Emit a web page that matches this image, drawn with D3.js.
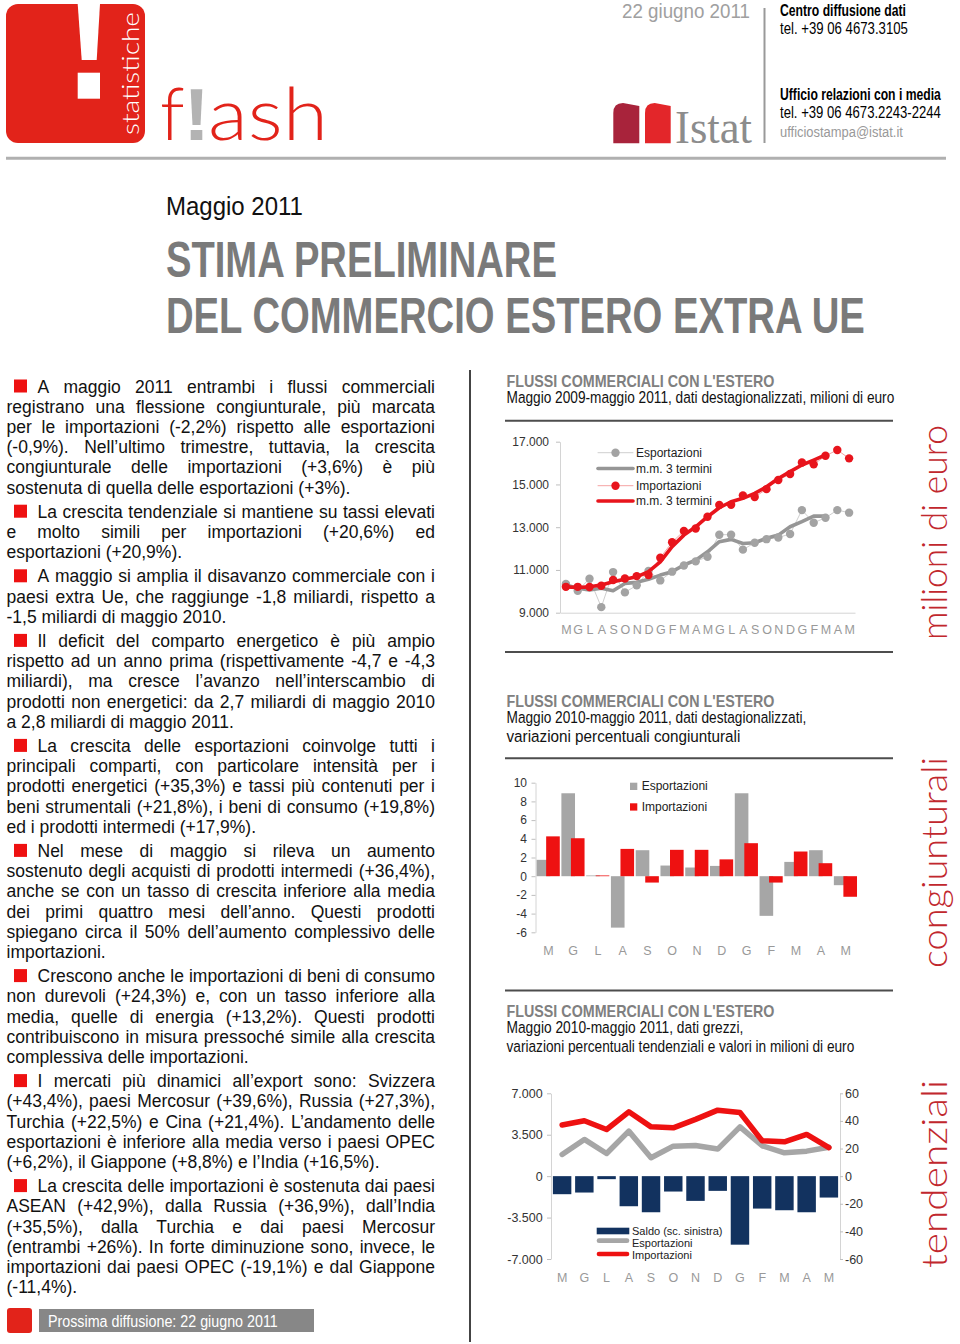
<!DOCTYPE html>
<html><head><meta charset="utf-8">
<script src="https://cdn.jsdelivr.net/npm/d3@7"></script>
<style>body{margin:0;background:#fff}svg{display:block}</style>
</head><body>
<svg id="c" width="960" height="1344"></svg>
<script>
// ---------------- DATA ----------------
const months25 = ["M","G","L","A","S","O","N","D","G","F","M","A","M","G","L","A","S","O","N","D","G","F","M","A","M"];
const exportRaw = [10340,10030,10590,9260,10900,9950,10280,10950,10510,10920,11210,11400,11620,12650,12650,11950,12270,12440,12520,12680,13800,13210,13440,13800,13680];
const importRaw = [10210,10210,10200,10260,10530,10600,10710,10760,11570,12300,12820,12940,13490,14040,14050,14490,14410,14780,15210,15490,16030,15940,16340,16610,16220];
const exportMA = [10300,10140,10060,10140,10030,10370,10420,10560,10760,10920,11230,11460,11850,12320,12430,12240,12270,12480,12630,13020,13260,13520,13520];
const importMA = [10210,10180,10210,10300,10450,10560,10680,10920,11380,12090,12630,13020,13490,13910,14190,14350,14580,14890,15280,15600,15910,16140,16380];
const ticks1 = [9000,11000,13000,15000,17000];

const months13 = ["M","G","L","A","S","O","N","D","G","F","M","A","M"];
const exportCong = [1.75,8.87,0.08,-5.5,2.78,1.14,0.93,1.1,8.87,-4.24,1.53,2.78,-0.96];
const importCong = [4.26,4.06,0.08,2.92,-0.68,2.82,2.82,1.8,3.53,-0.68,2.64,1.39,-2.2];
const ticks2 = [-6,-4,-2,0,2,4,6,8,10];

const saldo = [-1525,-1384,-254,-2542,-3050,-1300,-2090,-1243,-5790,-2740,-2880,-3050,-1808];
const exportTend = [15.7,26.6,16.4,32.6,13.3,21.7,22.2,19.6,35.7,22.0,16.9,18.1,20.9];
const importTend = [37.0,40.1,33.8,46.6,35.7,35.0,41.1,47.8,46.1,25.6,24.9,30.2,20.6];
const ticks3L = [-7000,-3500,0,3500,7000];
const ticks3R = [-60,-40,-20,0,20,40,60];

const paragraphs = [
 ["A maggio 2011 entrambi i flussi commerciali","registrano una flessione congiunturale, più marcata","per le importazioni (-2,2%) rispetto alle esportazioni","(-0,9%). Nell’ultimo trimestre, tuttavia, la crescita","congiunturale delle importazioni (+3,6%) è più","sostenuta di quella delle esportazioni (+3%)."],
 ["La crescita tendenziale si mantiene su tassi elevati","e molto simili per importazioni (+20,6%) ed","esportazioni (+20,9%)."],
 ["A maggio si amplia il disavanzo commerciale con i","paesi extra Ue, che raggiunge -1,8 miliardi, rispetto  a","-1,5 miliardi di maggio 2010."],
 ["Il deficit del comparto energetico è più ampio","rispetto ad un anno prima (rispettivamente -4,7 e -4,3","miliardi), ma cresce l’avanzo nell’interscambio di","prodotti non energetici: da 2,7 miliardi di maggio 2010","a 2,8 miliardi di maggio 2011."],
 ["La crescita delle esportazioni coinvolge tutti i","principali comparti, con particolare intensità per i","prodotti energetici (+35,3%) e tassi più contenuti per i","beni strumentali (+21,8%), i beni di consumo (+19,8%)","ed i prodotti intermedi (+17,9%)."],
 ["Nel mese di maggio si rileva un aumento","sostenuto degli acquisti di prodotti intermedi (+36,4%),","anche se con un tasso di crescita inferiore alla media","dei primi quattro mesi dell’anno. Questi prodotti","spiegano circa il 50% dell’aumento complessivo delle","importazioni."],
 ["Crescono anche le importazioni di beni di consumo","non durevoli (+24,3%) e, con un tasso inferiore alla","media, quelle di energia (+13,2%). Questi prodotti","contribuiscono in misura pressoché simile alla crescita","complessiva delle importazioni."],
 ["I mercati più dinamici all’export sono: Svizzera","(+43,4%), paesi Mercosur (+39,6%), Russia (+27,3%),","Turchia (+22,5%) e Cina (+21,4%). L’andamento delle","esportazioni è inferiore alla media verso i paesi OPEC","(+6,2%), il Giappone (+8,8%) e l’India (+16,5%)."],
 ["La crescita delle importazioni è sostenuta dai paesi","ASEAN (+42,9%), dalla Russia (+36,9%), dall’India","(+35,5%), dalla Turchia e dai paesi Mercosur","(entrambi +26%). In forte diminuzione sono, invece, le","importazioni dai paesi OPEC (-19,1%) e dal Giappone","(-11,4%)."]
];

// ---------------- SETUP ----------------
const NARROW = "'Liberation Sans Narrow','Arial Narrow','Liberation Sans',Arial,sans-serif";
const SANS = "'Liberation Sans',Arial,Helvetica,sans-serif";
const LIGHT = "Lato,'Open Sans','Liberation Sans',sans-serif";
const RED = "#e2231a";
const fmtIt = d3.formatLocale({decimal:",",thousands:".",grouping:[3],currency:["","€"],minus:"-"}).format(",");
const svg = d3.select("#c");
svg.append("rect").attr("width",960).attr("height",1344).attr("fill","#fff");

// text helper; o.len: horizontally scale glyphs (transform) so the text spans exactly o.len px
function T(g,x,y,s,o={}) {
  const t = g.append("text").attr("x",x).attr("y",y).text(s)
    .attr("font-family",o.ff||SANS).attr("font-size",o.fs||12).attr("fill",o.fill||"#000");
  if (o.fw) t.attr("font-weight",o.fw);
  if (o.anchor) t.attr("text-anchor",o.anchor);
  if (o.len) {
    const w = t.node().getComputedTextLength();
    if (w>0) t.attr("x",0).attr("y",0).attr("transform",`translate(${x},${y}) scale(${o.len/w},1)`);
  }
  return t;
}

// ---------------- HEADER ----------------
const H = svg.append("g");
H.append("rect").attr("x",6).attr("y",4).attr("width",139).attr("height",139).attr("rx",12).attr("fill",RED);
H.append("path").attr("d","M77.7,4 L100,4 L96.7,60 L81.7,60 Z").attr("fill","#fff");
H.append("rect").attr("x",77.7).attr("y",72.7).attr("width",22.3).attr("height",26).attr("fill","#fff");
H.append("text").attr("transform","translate(138.5,135) rotate(-90)").text("statistiche")
  .attr("font-family",LIGHT).attr("font-size",23).attr("font-weight",300).attr("fill","#fff")
  .attr("textLength",123).attr("lengthAdjust","spacingAndGlyphs");
T(H,160,140,"f",{ff:LIGHT,fs:72,fw:300,fill:RED});
H.append("path").attr("d","M190.7,89.3 L202.3,89.3 L200.5,125 L192.5,125 Z").attr("fill","#b3b3b3");
H.append("rect").attr("x",190.7).attr("y",130).attr("width",11.6).attr("height",10).attr("fill","#b3b3b3");
T(H,208,140,"ash",{ff:LIGHT,fs:72,fw:300,fill:RED,len:120});
H.append("line").attr("x1",6).attr("x2",946).attr("y1",158.3).attr("y2",158.3).attr("stroke","#b0b0b0").attr("stroke-width",3);

T(H,622,18,"22 giugno 2011",{ff:NARROW,fs:21,fill:"#a0a0a0",len:128});
H.append("line").attr("x1",764.5).attr("x2",764.5).attr("y1",8).attr("y2",143).attr("stroke","#999").attr("stroke-width",2);
T(H,780,16,"Centro diffusione dati",{ff:NARROW,fs:17,fw:"bold",len:126});
T(H,780,33.5,"tel. +39 06 4673.3105",{ff:NARROW,fs:17,len:128});
T(H,780,100,"Ufficio relazioni con i media",{ff:NARROW,fs:17,fw:"bold",len:161});
T(H,780,118.3,"tel. +39 06 4673.2243-2244",{ff:NARROW,fs:17,len:161});
T(H,780,137.3,"ufficiostampa@istat.it",{ff:NARROW,fs:15.5,fill:"#999",len:123});
H.append("path").attr("d","M613.3,113 Q613.3,103 623,103 L639.3,106 L639.3,143.3 L613.3,143.3 Z").attr("fill","#a8233b");
H.append("path").attr("d","M645,113 Q645,103 654.7,103 L670.7,106 L670.7,143.3 L645,143.3 Z").attr("fill","#e3262a");
T(H,675,143.3,"Istat",{ff:"'Liberation Serif','Times New Roman',serif",fs:46,fill:"#8c8c8c",len:77});

// ---------------- TITLE ----------------
T(svg,166,215,"Maggio 2011",{ff:SANS,fs:25,fill:"#111",len:137});
T(svg,166,277,"STIMA PRELIMINARE",{ff:NARROW,fs:50,fw:"bold",fill:"#7a7a7a",len:391});
T(svg,166,333,"DEL COMMERCIO ESTERO EXTRA UE",{ff:NARROW,fs:50,fw:"bold",fill:"#7a7a7a",len:699});

// ---------------- LEFT BODY TEXT ----------------
const B = svg.append("g").attr("font-family",SANS).attr("font-size",17.5).attr("fill","#111");
let yy = 392.5;
const LINE_GAP = 20.2, PARA_GAP = 24.2, RIGHT = 435;
paragraphs.forEach((para,pi)=>{
  if (pi>0) yy += PARA_GAP;
  B.append("rect").attr("x",14).attr("y",yy-13).attr("width",13).attr("height",13).attr("fill","#ee1111");
  para.forEach((line,li)=>{
    if (li>0) yy += LINE_GAP;
    const x0 = li===0 ? 37.5 : 6.5;
    if (li===para.length-1) { B.append("text").attr("x",x0).attr("y",yy).text(line); return; }
    const words = line.split(/\s+/);
    const ts = words.map(w=>B.append("text").attr("y",yy).text(w));
    const ws = ts.map(t=>t.node().getComputedTextLength());
    const gap = (RIGHT - x0 - d3.sum(ws))/(words.length-1);
    let x = x0;
    ts.forEach((t,i)=>{ t.attr("x",x); x += ws[i]+gap; });
  });
});
svg.append("line").attr("x1",470).attr("x2",470).attr("y1",370).attr("y2",1342).attr("stroke","#444").attr("stroke-width",2);

// footer
svg.append("rect").attr("x",7).attr("y",1308).attr("width",25).attr("height",25).attr("rx",3).attr("fill",RED);
svg.append("rect").attr("x",39).attr("y",1309).attr("width",275).attr("height",23).attr("fill","#878787");
T(svg,48,1327,"Prossima diffusione: 22 giugno 2011",{ff:NARROW,fs:17,fill:"#fff",len:230});

// ---------------- RIGHT SIDE HEADINGS ----------------
function heading(y0, subs){
  T(svg,506.5,y0,"FLUSSI COMMERCIALI CON L'ESTERO",{ff:NARROW,fs:16.5,fw:"bold",fill:"#808080",len:268});
  subs.forEach((s,i)=>T(svg,506.5,y0+16+i*19,s[0],{ff:NARROW,fs:16.5,fill:"#111",len:s[1]}));
}
heading(386.7,[["Maggio 2009-maggio 2011, dati destagionalizzati, milioni di euro",388]]);
heading(706.7,[["Maggio 2010-maggio 2011, dati destagionalizzati,",300],["variazioni percentuali congiunturali",234]]);
heading(1016.7,[["Maggio 2010-maggio 2011, dati grezzi,",237],["variazioni percentuali tendenziali e valori in milioni di euro",348]]);
[420.7,652,758.3,990.5].forEach(y=>svg.append("line").attr("x1",505).attr("x2",893).attr("y1",y).attr("y2",y).attr("stroke","#4d4d4d").attr("stroke-width",2));

// side words
[["milioni di euro",640,215],["congiunturali",968,211],["tendenziali",1268,188]].forEach(d=>{
  svg.append("text").attr("transform",`translate(947,${d[1]}) rotate(-90)`).text(d[0])
    .attr("font-family",LIGHT).attr("font-size",35).attr("font-weight",300).attr("fill","#c1272d")
    .attr("textLength",d[2]).attr("lengthAdjust","spacingAndGlyphs");
});

function styleAxis(g,fs,fill){
  g.attr("font-family",NARROW).attr("font-size",fs);
  g.selectAll("text").attr("fill",fill);
  g.selectAll(".tick line").attr("stroke","#bfbfbf");
  g.select(".domain").attr("stroke","#d4d4d4");
}

// ---------------- CHART 1 ----------------
const C1 = svg.append("g");
const x1 = d3.scalePoint().domain(d3.range(months25.length)).range([560,855]).padding(0.5);
const y1 = d3.scaleLinear().domain([9000,17000]).range([612.7,441.7]);
C1.append("g").attr("transform","translate(560,0)")
  .call(d3.axisLeft(y1).tickValues(ticks1).tickFormat(fmtIt).tickSize(4).tickPadding(7).tickSizeOuter(0))
  .call(g=>styleAxis(g,12,"#333"));
C1.append("g").attr("transform","translate(0,612.7)")
  .call(d3.axisBottom(x1).tickFormat(i=>months25[i]).tickSize(0).tickPadding(12.8))
  .call(g=>styleAxis(g,12.5,"#999"));
const ln1 = d3.line().x((d,i)=>x1(i)).y(d=>y1(d));
C1.append("path").datum(exportRaw).attr("d",ln1).attr("fill","none").attr("stroke","#cfcfcf").attr("stroke-width",1);
C1.append("path").datum(exportMA).attr("d",ln1).attr("fill","none").attr("stroke","#969696").attr("stroke-width",3.6).attr("stroke-linejoin","round").attr("stroke-linecap","round");
C1.selectAll(".de").data(exportRaw).join("circle").attr("cx",(d,i)=>x1(i)).attr("cy",d=>y1(d)).attr("r",4.2).attr("fill","#a3a3a3");
C1.append("path").datum(importRaw).attr("d",ln1).attr("fill","none").attr("stroke","#f5a3a3").attr("stroke-width",1);
C1.append("path").datum(importMA).attr("d",ln1).attr("fill","none").attr("stroke","#e8141c").attr("stroke-width",3.6).attr("stroke-linejoin","round").attr("stroke-linecap","round");
C1.selectAll(".di").data(importRaw).join("circle").attr("cx",(d,i)=>x1(i)).attr("cy",d=>y1(d)).attr("r",4.2).attr("fill","#e8141c");
// legend
const L1 = C1.append("g");
[["Esportazioni",452.7,"#cfcfcf",1,"#a3a3a3"],["m.m. 3 termini",468.5,"#969696",3.6,null],["Importazioni",485.7,"#f5a3a3",1,"#e8141c"],["m.m. 3 termini",501,"#e8141c",3.6,null]].forEach(d=>{
  L1.append("line").attr("x1",598).attr("x2",633).attr("y1",d[1]).attr("y2",d[1]).attr("stroke",d[2]).attr("stroke-width",d[3]).attr("stroke-linecap","round");
  if (d[4]) L1.append("circle").attr("cx",615.5).attr("cy",d[1]).attr("r",4.2).attr("fill",d[4]);
  T(L1,636,d[1]+4,d[0],{ff:NARROW,fs:12,fill:"#222"});
});

// ---------------- CHART 2 ----------------
const C2 = svg.append("g");
const x2 = d3.scaleBand().domain(d3.range(months13.length)).range([536,858]);
const y2 = d3.scaleLinear().domain([-6,10]).range([932.3,782.7]);
C2.append("g").attr("transform","translate(535.5,0)")
  .call(d3.axisLeft(y2).tickValues(ticks2).tickFormat(fmtIt).tickSize(4).tickPadding(4.5).tickSizeOuter(0))
  .call(g=>styleAxis(g,12,"#333"));
C2.append("g").attr("transform","translate(0,932.3)")
  .call(d3.axisBottom(x2).tickFormat(i=>months13[i]).tickSize(0).tickPadding(14.2))
  .call(g=>{styleAxis(g,12.5,"#999"); g.select(".domain").remove();});
const bw2 = x2.bandwidth();
C2.selectAll(".be").data(exportCong).join("rect")
  .attr("x",(d,i)=>x2(i)+0.025*bw2).attr("width",0.55*bw2)
  .attr("y",d=>y2(Math.max(0,d))).attr("height",d=>Math.abs(y2(d)-y2(0))).attr("fill","#a6a6a6");
C2.selectAll(".bi").data(importCong).join("rect")
  .attr("x",(d,i)=>x2(i)+0.41*bw2).attr("width",0.55*bw2)
  .attr("y",d=>y2(Math.max(0,d))).attr("height",d=>Math.abs(y2(d)-y2(0))).attr("fill","#ee1111");
C2.append("rect").attr("x",630).attr("y",782.7).attr("width",7.3).attr("height",7.3).attr("fill","#a6a6a6");
T(C2,641.7,790,"Esportazioni",{ff:NARROW,fs:12,fill:"#222"});
C2.append("rect").attr("x",630).attr("y",803.3).attr("width",7.3).attr("height",7.3).attr("fill","#ee1111");
T(C2,641.7,810.7,"Importazioni",{ff:NARROW,fs:12,fill:"#222"});

// ---------------- CHART 3 ----------------
const C3 = svg.append("g");
const x3 = d3.scaleBand().domain(d3.range(months13.length)).range([551,840]).paddingInner(0.17).paddingOuter(0.085);
const y3 = d3.scaleLinear().domain([-7000,7000]).range([1259,1093.3]);
const y3r = d3.scaleLinear().domain([-60,60]).range([1259,1093.3]);
C3.append("g").attr("transform","translate(551,0)")
  .call(d3.axisLeft(y3).tickValues(ticks3L).tickFormat(fmtIt).tickSize(4).tickPadding(4.3).tickSizeOuter(0))
  .call(g=>styleAxis(g,12.5,"#333"));
C3.append("g").attr("transform","translate(840,0)")
  .call(d3.axisRight(y3r).tickValues(ticks3R).tickFormat(fmtIt).tickSize(3).tickPadding(2).tickSizeOuter(0))
  .call(g=>styleAxis(g,12.5,"#333"));
C3.append("g").attr("transform","translate(0,1259)")
  .call(d3.axisBottom(x3).tickFormat(i=>months13[i]).tickSize(0).tickPadding(13.8))
  .call(g=>{styleAxis(g,12.5,"#999"); g.select(".domain").remove();});
C3.selectAll(".bs").data(saldo).join("rect")
  .attr("x",(d,i)=>x3(i)).attr("width",x3.bandwidth())
  .attr("y",d=>y3(Math.max(0,d))).attr("height",d=>Math.abs(y3(d)-y3(0))).attr("fill","#12325f");
const ln3 = d3.line().x((d,i)=>x3(i)+x3.bandwidth()/2).y(d=>y3r(d));
C3.append("path").datum(exportTend).attr("d",ln3).attr("fill","none").attr("stroke","#a6a6a6").attr("stroke-width",5.5).attr("stroke-linejoin","round").attr("stroke-linecap","round");
C3.append("path").datum(importTend).attr("d",ln3).attr("fill","none").attr("stroke","#ee1111").attr("stroke-width",5.5).attr("stroke-linejoin","round").attr("stroke-linecap","round");
C3.append("rect").attr("x",596.7).attr("y",1227.7).attr("width",32.6).attr("height",6.6).attr("fill","#12325f");
T(C3,632,1235,"Saldo (sc. sinistra)",{ff:NARROW,fs:11,fill:"#222"});
C3.append("line").attr("x1",599).attr("x2",627).attr("y1",1240.7).attr("y2",1240.7).attr("stroke","#a6a6a6").attr("stroke-width",4.7).attr("stroke-linecap","round");
T(C3,632,1247.3,"Esportazioni",{ff:NARROW,fs:11,fill:"#222"});
C3.append("line").attr("x1",599).attr("x2",627).attr("y1",1254).attr("y2",1254).attr("stroke","#ee1111").attr("stroke-width",4.7).attr("stroke-linecap","round");
T(C3,632,1259.3,"Importazioni",{ff:NARROW,fs:11,fill:"#222"});
</script></body></html>
